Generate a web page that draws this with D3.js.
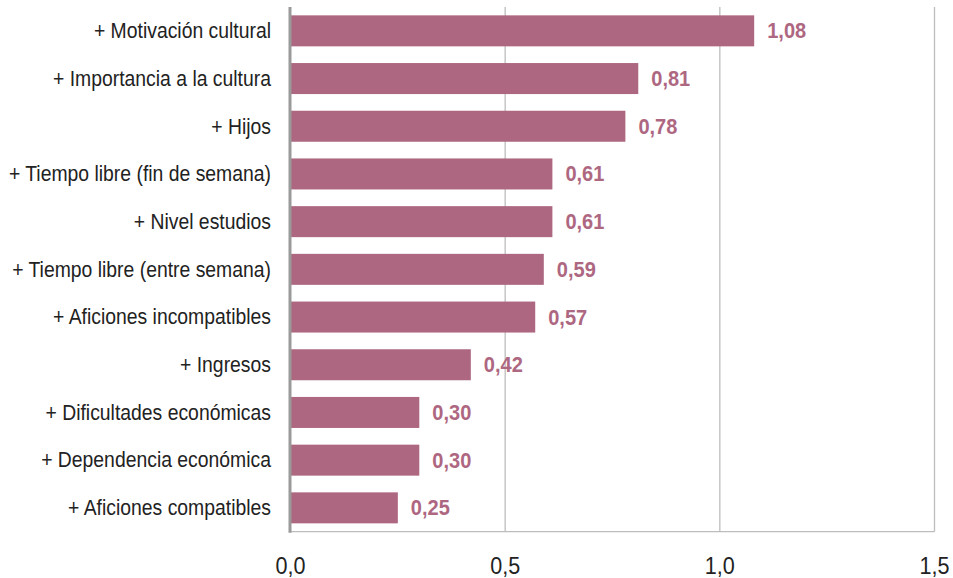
<!DOCTYPE html>
<html><head><meta charset="utf-8">
<script src="https://cdn.jsdelivr.net/npm/d3@7"></script>
<style>
html,body{margin:0;padding:0;background:#fff;}
svg text{font-family:"Liberation Sans",Arial,sans-serif;}
</style></head>
<body>
<svg id="chart" width="953" height="578"></svg>
<script>
const categories = [
  "+ Motivación cultural",
  "+ Importancia a la cultura",
  "+ Hijos",
  "+ Tiempo libre (fin de semana)",
  "+ Nivel estudios",
  "+ Tiempo libre (entre semana)",
  "+ Aficiones incompatibles",
  "+ Ingresos",
  "+ Dificultades económicas",
  "+ Dependencia económica",
  "+ Aficiones compatibles"
];
const values = [1.08, 0.81, 0.78, 0.61, 0.61, 0.59, 0.57, 0.42, 0.30, 0.30, 0.25];
const tickValues = [0, 0.5, 1.0, 1.5];
const tickLabels = ["0,0", "0,5", "1,0", "1,5"];

(function () {
const svg = d3.select("#chart");
const mLeft = 290.5, mRight = 934.5, mTop = 7, mBottom = 531.7;
const barColor = "#ae6781";

const x = d3.scaleLinear().domain([0, 1.5]).range([mLeft, mRight]);
const y = d3.scaleBand().domain(categories).range([mTop, mBottom]).paddingInner(0.35).paddingOuter(0.175);

// measure helper for condensed look
function widthOf(str, size, weight) {
  const t = svg.append("text").attr("font-size", size).attr("font-weight", weight || "normal").text(str);
  const w = t.node().getComputedTextLength();
  t.remove();
  return w;
}
const kLabel = 259 / widthOf("+ Tiempo libre (entre semana)", 22);
const kValue = 39 / widthOf("0,61", 21.5, "bold");
const kTick = 30 / widthOf("0,0", 23);

// gridlines
svg.append("g").selectAll("line").data(tickValues.slice(1)).join("line")
  .attr("x1", d => x(d)).attr("x2", d => x(d))
  .attr("y1", mTop).attr("y2", mBottom)
  .attr("stroke", "#bdbdbd").attr("stroke-width", 1.3);
// bottom line
svg.append("line").attr("x1", mLeft).attr("x2", x(1.5)).attr("y1", mBottom).attr("y2", mBottom)
  .attr("stroke", "#bdbdbd").attr("stroke-width", 1.3);

// bars
svg.append("g").selectAll("rect").data(values).join("rect")
  .attr("x", x(0))
  .attr("y", (d, i) => y(categories[i]))
  .attr("width", d => x(d) - x(0))
  .attr("height", y.bandwidth())
  .attr("fill", barColor);

// left axis
svg.append("line").attr("x1", x(0) - 0.5).attr("x2", x(0) - 0.5).attr("y1", mTop).attr("y2", mBottom + 1)
  .attr("stroke", "#9a9a9a").attr("stroke-width", 3);

// category labels
svg.append("g").selectAll("text").data(categories).join("text")
  .attr("transform", d => `translate(271,${y(d) + y.bandwidth() / 2}) scale(${kLabel},1)`)
  .attr("dy", "0.33em")
  .attr("text-anchor", "end")
  .attr("font-size", 22)
  .attr("fill", "#222")
  .text(d => d);

// value labels
const fmt = d => d3.format(".2f")(d).replace(".", ",");
svg.append("g").selectAll("text").data(values).join("text")
  .attr("transform", (d, i) => `translate(${x(d) + 13},${y(categories[i]) + y.bandwidth() / 2}) scale(${kValue},1)`)
  .attr("dy", "0.35em")
  .attr("font-size", 21.5)
  .attr("font-weight", "bold")
  .attr("fill", barColor)
  .text(d => fmt(d));

// x tick labels
svg.append("g").selectAll("text").data(tickValues).join("text")
  .attr("transform", d => `translate(${x(d)},573.5) scale(${kTick},1)`)
  .attr("text-anchor", "middle")
  .attr("font-size", 23)
  .attr("fill", "#222")
  .text((d, i) => tickLabels[i]);
})();
</script>
</body></html>
